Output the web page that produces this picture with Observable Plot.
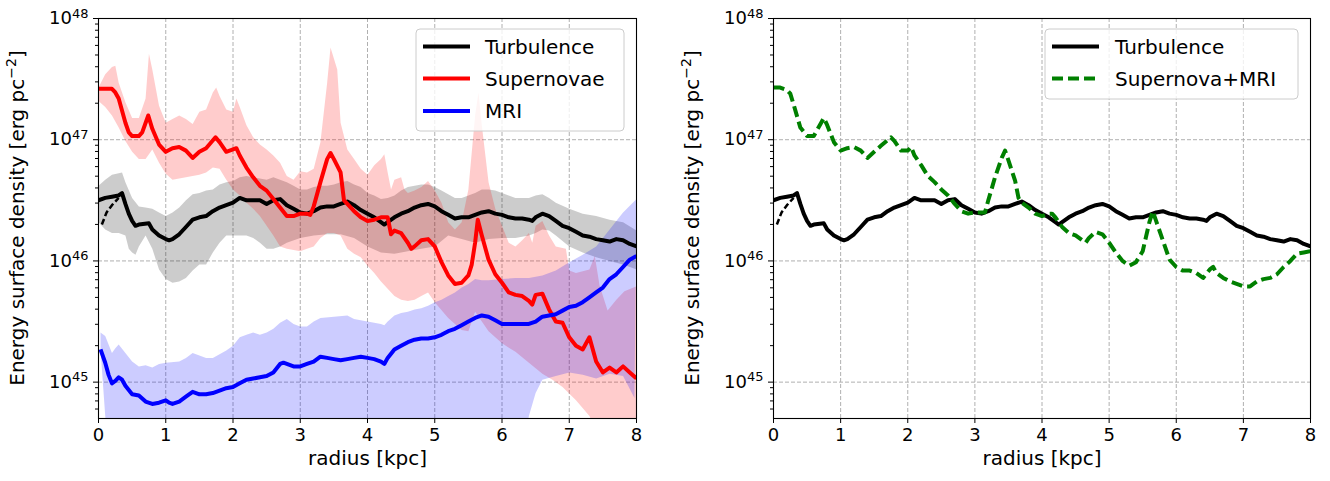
<!DOCTYPE html>
<html><head><meta charset="utf-8">
<script src="https://cdn.jsdelivr.net/npm/d3@7"></script>
<script src="https://cdn.jsdelivr.net/npm/@observablehq/plot@0.6"></script>
<style>
body{margin:0;background:#fff;}
#wrap{position:relative;width:1330px;height:481px;overflow:hidden;}
#left,#right{position:absolute;top:0;}
#left{left:0;} #right{left:665px;}
</style></head><body><div id="wrap"><div id="left"></div><div id="right"></div></div>
<script>
// ---- data: [radius kpc, log10(energy surface density / erg pc^-2)] ----
const turbulence = [[0,46.50],[0.1,46.52],[0.2,46.53],[0.3,46.54],[0.35,46.56],[0.4,46.47],[0.45,46.39],[0.5,46.33],[0.55,46.29],[0.6,46.30],[0.75,46.31],[0.8,46.26],[0.9,46.21],[1.0,46.18],[1.05,46.17],[1.1,46.18],[1.2,46.22],[1.3,46.28],[1.4,46.34],[1.5,46.36],[1.6,46.37],[1.7,46.41],[1.8,46.44],[1.9,46.46],[2.0,46.48],[2.1,46.52],[2.2,46.50],[2.3,46.50],[2.4,46.50],[2.5,46.47],[2.6,46.50],[2.7,46.51],[2.8,46.46],[2.9,46.43],[3.0,46.40],[3.1,46.39],[3.2,46.41],[3.3,46.44],[3.4,46.45],[3.5,46.45],[3.6,46.47],[3.7,46.49],[3.8,46.46],[3.9,46.42],[4.0,46.39],[4.1,46.36],[4.2,46.32],[4.25,46.30],[4.3,46.32],[4.4,46.36],[4.5,46.39],[4.6,46.41],[4.7,46.44],[4.8,46.46],[4.9,46.47],[5.0,46.45],[5.1,46.41],[5.2,46.38],[5.3,46.35],[5.4,46.36],[5.5,46.36],[5.6,46.38],[5.7,46.40],[5.8,46.41],[5.9,46.39],[6.0,46.38],[6.1,46.36],[6.2,46.35],[6.3,46.35],[6.4,46.34],[6.45,46.33],[6.5,46.36],[6.6,46.39],[6.7,46.37],[6.8,46.33],[6.9,46.29],[7.0,46.27],[7.1,46.24],[7.2,46.21],[7.3,46.20],[7.4,46.18],[7.5,46.17],[7.6,46.16],[7.7,46.18],[7.8,46.17],[7.9,46.14],[8.0,46.12]];
const turbulenceInner = [[0.05,46.30],[0.12,46.40],[0.2,46.46],[0.3,46.52]];
const supernovae = [[0,47.42],[0.1,47.42],[0.2,47.42],[0.25,47.39],[0.3,47.34],[0.4,47.14],[0.45,47.06],[0.5,47.03],[0.6,47.03],[0.65,47.06],[0.74,47.20],[0.8,47.09],[0.9,46.96],[1.0,46.90],[1.1,46.93],[1.2,46.94],[1.3,46.91],[1.4,46.85],[1.5,46.90],[1.6,46.93],[1.74,47.02],[1.8,46.98],[1.9,46.90],[2.0,46.92],[2.05,46.93],[2.1,46.87],[2.2,46.77],[2.3,46.69],[2.4,46.62],[2.5,46.58],[2.6,46.51],[2.7,46.44],[2.8,46.37],[2.9,46.37],[3.0,46.39],[3.1,46.39],[3.15,46.38],[3.2,46.45],[3.3,46.65],[3.4,46.84],[3.45,46.89],[3.5,46.84],[3.6,46.73],[3.65,46.50],[3.7,46.47],[3.8,46.41],[3.9,46.36],[4.0,46.33],[4.1,46.34],[4.2,46.36],[4.3,46.36],[4.35,46.22],[4.4,46.25],[4.5,46.23],[4.6,46.15],[4.65,46.10],[4.7,46.12],[4.8,46.17],[4.9,46.18],[5.0,46.12],[5.1,45.99],[5.2,45.88],[5.3,45.81],[5.4,45.82],[5.5,45.88],[5.55,45.97],[5.6,46.15],[5.64,46.34],[5.7,46.21],[5.8,46.01],[5.9,45.89],[6.0,45.82],[6.1,45.74],[6.2,45.72],[6.3,45.71],[6.4,45.67],[6.45,45.64],[6.5,45.72],[6.6,45.73],[6.7,45.60],[6.8,45.50],[6.9,45.49],[7.0,45.37],[7.1,45.30],[7.2,45.27],[7.3,45.37],[7.4,45.17],[7.5,45.08],[7.6,45.12],[7.7,45.08],[7.8,45.13],[7.9,45.08],[8.0,45.03]];
const mri = [[0.03,45.27],[0.1,45.16],[0.15,45.06],[0.2,44.99],[0.25,45.01],[0.3,45.04],[0.35,45.02],[0.4,44.97],[0.5,44.90],[0.6,44.89],[0.7,44.84],[0.8,44.82],[0.9,44.83],[1.0,44.85],[1.05,44.83],[1.1,44.82],[1.2,44.84],[1.3,44.88],[1.4,44.92],[1.5,44.90],[1.6,44.90],[1.7,44.91],[1.8,44.93],[1.9,44.95],[2.0,44.96],[2.1,44.99],[2.2,45.02],[2.3,45.03],[2.4,45.04],[2.5,45.05],[2.6,45.08],[2.7,45.15],[2.75,45.16],[2.8,45.15],[2.9,45.13],[3.0,45.13],[3.1,45.15],[3.2,45.17],[3.3,45.21],[3.4,45.20],[3.5,45.19],[3.6,45.18],[3.7,45.19],[3.8,45.20],[3.9,45.21],[4.0,45.20],[4.1,45.19],[4.2,45.17],[4.25,45.15],[4.3,45.20],[4.4,45.27],[4.5,45.30],[4.6,45.33],[4.7,45.35],[4.8,45.36],[4.9,45.36],[5.0,45.37],[5.1,45.39],[5.2,45.42],[5.3,45.44],[5.4,45.47],[5.5,45.50],[5.6,45.53],[5.7,45.55],[5.8,45.54],[5.9,45.51],[6.0,45.48],[6.1,45.48],[6.2,45.48],[6.3,45.48],[6.4,45.48],[6.5,45.50],[6.6,45.54],[6.7,45.55],[6.8,45.56],[6.9,45.59],[7.0,45.62],[7.1,45.63],[7.2,45.66],[7.3,45.70],[7.4,45.74],[7.5,45.78],[7.6,45.85],[7.7,45.89],[7.8,45.95],[7.9,46.01],[8.0,46.04]];
const supernovaMri = [[0,47.43],[0.1,47.43],[0.2,47.41],[0.25,47.38],[0.3,47.29],[0.4,47.10],[0.5,47.03],[0.6,47.03],[0.7,47.13],[0.75,47.18],[0.8,47.12],[0.9,46.98],[1.0,46.91],[1.1,46.93],[1.2,46.94],[1.3,46.91],[1.4,46.85],[1.5,46.90],[1.6,46.95],[1.75,47.02],[1.8,46.99],[1.9,46.91],[2.0,46.91],[2.05,46.94],[2.1,46.87],[2.2,46.79],[2.3,46.70],[2.4,46.65],[2.5,46.59],[2.6,46.54],[2.7,46.47],[2.8,46.41],[2.9,46.39],[3.0,46.40],[3.1,46.40],[3.15,46.40],[3.2,46.50],[3.3,46.69],[3.4,46.85],[3.45,46.91],[3.5,46.83],[3.6,46.66],[3.65,46.52],[3.7,46.48],[3.8,46.44],[3.9,46.39],[4.0,46.37],[4.1,46.39],[4.15,46.39],[4.2,46.36],[4.3,46.28],[4.4,46.23],[4.5,46.21],[4.6,46.17],[4.65,46.15],[4.7,46.19],[4.8,46.24],[4.9,46.22],[5.0,46.15],[5.1,46.07],[5.2,46.00],[5.3,45.96],[5.4,45.99],[5.5,46.08],[5.6,46.32],[5.65,46.41],[5.7,46.33],[5.8,46.17],[5.9,46.01],[6.0,45.95],[6.1,45.92],[6.2,45.92],[6.3,45.90],[6.4,45.86],[6.5,45.93],[6.55,45.95],[6.6,45.90],[6.7,45.86],[6.8,45.83],[6.9,45.81],[7.0,45.79],[7.1,45.79],[7.15,45.81],[7.2,45.83],[7.3,45.85],[7.4,45.86],[7.5,45.89],[7.6,45.95],[7.7,46.00],[7.8,46.06],[7.9,46.07],[8.0,46.08]];
// spread bands (upper / lower edges)
const turbulenceHi = [[0,46.62],[0.1,46.67],[0.2,46.71],[0.35,46.73],[0.4,46.65],[0.5,46.52],[0.6,46.45],[0.7,46.44],[0.8,46.43],[0.9,46.40],[1.0,46.37],[1.1,46.40],[1.2,46.44],[1.3,46.50],[1.4,46.55],[1.5,46.56],[1.6,46.58],[1.7,46.59],[1.8,46.63],[1.9,46.65],[2.0,46.66],[2.1,46.69],[2.2,46.70],[2.3,46.69],[2.4,46.68],[2.5,46.67],[2.6,46.69],[2.7,46.67],[2.8,46.65],[2.9,46.62],[3.0,46.59],[3.1,46.59],[3.2,46.61],[3.3,46.62],[3.4,46.62],[3.5,46.63],[3.6,46.65],[3.7,46.66],[3.8,46.63],[3.9,46.61],[4.0,46.56],[4.1,46.54],[4.2,46.51],[4.3,46.52],[4.4,46.54],[4.5,46.58],[4.6,46.61],[4.7,46.62],[4.8,46.63],[4.9,46.63],[5.0,46.61],[5.1,46.58],[5.2,46.55],[5.3,46.52],[5.4,46.52],[5.5,46.54],[5.6,46.56],[5.7,46.59],[5.8,46.59],[5.9,46.58],[6.0,46.56],[6.2,46.52],[6.4,46.52],[6.5,46.54],[6.6,46.55],[6.7,46.52],[6.8,46.48],[7.0,46.43],[7.2,46.39],[7.4,46.37],[7.6,46.34],[7.8,46.32],[8.0,46.25]];
const turbulenceLo = [[0,46.32],[0.1,46.26],[0.2,46.23],[0.3,46.23],[0.4,46.21],[0.45,46.10],[0.5,46.07],[0.55,46.05],[0.6,46.12],[0.7,46.21],[0.8,46.10],[0.9,45.93],[1.0,45.85],[1.1,45.82],[1.2,45.83],[1.3,45.86],[1.4,45.92],[1.5,45.97],[1.6,45.97],[1.7,46.07],[1.8,46.15],[1.9,46.21],[2.0,46.21],[2.2,46.21],[2.3,46.19],[2.4,46.15],[2.5,46.10],[2.6,46.10],[2.7,46.12],[2.8,46.15],[3.0,46.19],[3.2,46.21],[3.4,46.22],[3.6,46.22],[3.8,46.19],[4.0,46.12],[4.2,46.07],[4.4,46.06],[4.6,46.08],[4.8,46.10],[5.0,46.12],[5.2,46.21],[5.4,46.18],[5.6,46.15],[5.8,46.18],[6.0,46.19],[6.2,46.19],[6.4,46.21],[6.5,46.23],[6.6,46.26],[6.7,46.25],[6.8,46.21],[7.0,46.12],[7.2,46.07],[7.4,46.03],[7.6,46.00],[7.8,45.97],[8.0,45.93]];
const supernovaeHi = [[0,47.43],[0.1,47.54],[0.2,47.60],[0.25,47.61],[0.3,47.47],[0.4,47.31],[0.5,47.18],[0.6,47.18],[0.7,47.34],[0.75,47.71],[0.8,47.58],[0.9,47.28],[1.0,47.14],[1.1,47.17],[1.2,47.20],[1.3,47.17],[1.4,47.13],[1.5,47.23],[1.6,47.25],[1.7,47.39],[1.75,47.43],[1.8,47.36],[1.9,47.25],[2.0,47.23],[2.05,47.34],[2.1,47.27],[2.2,47.12],[2.3,47.02],[2.4,46.96],[2.5,46.92],[2.6,46.87],[2.7,46.81],[2.8,46.70],[2.9,46.67],[3.0,46.74],[3.1,46.73],[3.2,46.76],[3.3,46.98],[3.4,47.47],[3.45,47.76],[3.55,47.58],[3.6,47.14],[3.7,46.92],[3.8,46.84],[3.9,46.76],[4.0,46.71],[4.1,46.79],[4.2,46.84],[4.25,46.88],[4.3,46.73],[4.35,46.59],[4.4,46.67],[4.5,46.69],[4.55,46.59],[4.6,46.56],[4.7,46.58],[4.8,46.61],[4.9,46.66],[5.0,46.58],[5.1,46.48],[5.2,46.32],[5.3,46.26],[5.4,46.32],[5.5,46.59],[5.6,47.20],[5.65,47.39],[5.7,47.12],[5.8,46.65],[5.9,46.43],[6.0,46.29],[6.1,46.15],[6.2,46.12],[6.3,46.17],[6.4,46.23],[6.45,46.15],[6.5,46.29],[6.6,46.33],[6.7,46.21],[6.8,46.12],[6.95,46.10],[7.0,45.92],[7.1,45.90],[7.3,45.93],[7.38,46.04],[7.45,45.80],[7.57,45.59],[7.7,45.68],[7.82,45.75],[8.0,45.79]];
const supernovaeLo = [[0,47.32],[0.1,47.27],[0.2,47.20],[0.3,47.10],[0.4,46.99],[0.5,46.90],[0.6,46.84],[0.7,46.84],[0.8,46.92],[0.9,46.81],[1.0,46.72],[1.1,46.67],[1.3,46.69],[1.5,46.71],[1.6,46.73],[1.7,46.77],[1.8,46.76],[1.9,46.67],[2.0,46.59],[2.1,46.54],[2.2,46.48],[2.3,46.43],[2.4,46.37],[2.5,46.29],[2.6,46.21],[2.7,46.12],[2.8,46.10],[3.0,46.08],[3.1,46.10],[3.2,46.12],[3.3,46.19],[3.4,46.23],[3.5,46.23],[3.6,46.21],[3.7,46.10],[3.8,46.06],[3.9,46.03],[4.0,45.96],[4.1,45.90],[4.2,45.83],[4.3,45.77],[4.4,45.71],[4.5,45.68],[4.6,45.67],[4.7,45.68],[4.8,45.71],[4.9,45.74],[5.0,45.66],[5.2,45.53],[5.4,45.43],[5.5,45.42],[5.6,45.58],[5.7,45.50],[5.8,45.42],[5.9,45.37],[6.0,45.32],[6.2,45.25],[6.4,45.16],[6.6,45.07],[6.75,45.02],[6.9,44.96],[7.1,44.85],[7.3,44.72],[7.45,44.55],[7.7,44.45],[8.0,44.45]];
const mriHi = [[0.03,45.41],[0.1,45.38],[0.2,45.24],[0.25,45.28],[0.3,45.31],[0.4,45.24],[0.5,45.17],[0.6,45.13],[0.7,45.14],[0.8,45.12],[0.9,45.15],[1.0,45.16],[1.2,45.17],[1.3,45.20],[1.4,45.24],[1.5,45.22],[1.6,45.20],[1.7,45.20],[1.8,45.23],[1.9,45.26],[2.0,45.30],[2.1,45.37],[2.2,45.39],[2.3,45.41],[2.4,45.39],[2.5,45.41],[2.6,45.44],[2.7,45.49],[2.8,45.52],[2.9,45.48],[3.0,45.46],[3.1,45.46],[3.2,45.50],[3.3,45.53],[3.5,45.54],[3.7,45.55],[3.8,45.52],[4.0,45.50],[4.2,45.48],[4.25,45.47],[4.3,45.50],[4.4,45.55],[4.5,45.57],[4.6,45.58],[4.7,45.60],[4.8,45.61],[4.9,45.63],[5.0,45.66],[5.1,45.68],[5.2,45.71],[5.3,45.74],[5.4,45.78],[5.5,45.81],[5.6,45.85],[5.7,45.84],[5.8,45.84],[6.0,45.85],[6.2,45.86],[6.4,45.86],[6.6,45.88],[6.8,45.92],[7.0,45.99],[7.2,46.05],[7.4,46.12],[7.6,46.26],[7.8,46.40],[8.0,46.51]];
const mriLo = [[0.03,45.27],[0.1,44.72],[0.15,44.44],[6.3,44.44],[6.4,44.72],[6.5,44.91],[6.6,45.02],[6.8,45.05],[7.0,45.08],[7.2,45.06],[7.4,45.03],[7.6,45.07],[7.8,45.05],[7.97,44.87]];
// ticks
const xTicks = [0,1,2,3,4,5,6,7,8];
const yExponents = [45,46,47,48];
const yDomainExp = [44.7,48];

// ---- helpers ----
const rows = arr => arr.map(([r, l]) => ({r, v: Math.pow(10, l)}));
const band = (hi, lo) => rows(hi.concat(lo.slice().reverse()));
const yMajor = yExponents.map(e => Math.pow(10, e));
const yMinor = [];
for (let e = 44; e < 48; e++) for (let m = 2; m <= 9; m++) { const v = m * Math.pow(10, e); if (v >= Math.pow(10, yDomainExp[0]) && v <= 1e48) yMinor.push(v); }
const FONT = "DejaVu Sans";

function panel(mLeft, mRight, marks) {
  const svg = Plot.plot({
    width: 665, height: 481,
    marginLeft: mLeft, marginRight: mRight, marginTop: 18, marginBottom: 63,
    style: {fontFamily: FONT, fontSize: "18px", color: "black", background: "white", overflow: "visible"},
    x: {domain: [0, 8]},
    y: {type: "log", domain: yDomainExp.map(e => Math.pow(10, e))},
    marks: [
      Plot.gridX({ticks: xTicks.slice(1, -1), stroke: "#b0b0b0", strokeOpacity: 1, strokeWidth: 1, strokeDasharray: "4,2"}),
      Plot.gridY({ticks: yMajor.slice(0, -1), stroke: "#b0b0b0", strokeOpacity: 1, strokeWidth: 1, strokeDasharray: "4,2"}),
      ...marks,
      Plot.frame({stroke: "black", strokeWidth: 1.1}),
      Plot.axisX({ticks: xTicks, tickSize: 5, tickPadding: 5, fontSize: 18, label: null, tickFormat: d => String(d)}),
      Plot.axisY({ticks: yMinor, tickSize: 3, tickFormat: () => "", label: null}),
      Plot.axisY({ticks: yMajor, tickSize: 5, tickPadding: 5, fontSize: 18, label: null, tickFormat: d => "10^" + Math.round(Math.log10(d))}),
      Plot.text(["radius [kpc]"], {text: d => d, frameAnchor: "bottom", dy: 46, fontSize: 20})
    ]
  });
  d3.select(svg).selectAll("text").each(function() {
    const t = this.textContent;
    if (/^10\^\d+$/.test(t)) {
      const [b, e] = t.split("^");
      const s = d3.select(this); s.text(b);
      s.append("tspan").attr("dy", "-0.5em").attr("font-size", "0.72em").text(e);
    }
  });
  return svg;
}

function yLabel(svg, x) {
  const t = d3.select(svg).append("text")
    .attr("transform", `translate(${x},218) rotate(-90)`)
    .attr("text-anchor", "middle").attr("font-family", FONT).attr("font-size", 20).attr("fill", "black");
  t.append("tspan").text("Energy surface density [erg pc");
  t.append("tspan").attr("dy", -8).attr("font-size", 14).text("−2");
  t.append("tspan").attr("dy", 8).text("]");
}

function legend(svg, box, items) {
  const g = d3.select(svg).append("g").attr("text-anchor", "start");
  g.append("rect").attr("x", box.x).attr("y", box.y).attr("width", box.w).attr("height", box.h)
    .attr("rx", 4).attr("fill", "white").attr("fill-opacity", 0.8).attr("stroke", "#cccccc");
  items.forEach(it => {
    g.append("line").attr("x1", box.lx).attr("x2", box.lx + 47).attr("y1", it.y).attr("y2", it.y)
      .attr("stroke", it.color).attr("stroke-width", 4).attr("stroke-dasharray", it.dash || null);
    g.append("text").attr("x", box.tx).attr("y", it.y).attr("dy", "0.35em").attr("text-anchor", "start")
      .attr("font-family", FONT).attr("font-size", 20).attr("fill", "black").text(it.label);
  });
}

const lineOpts = (color) => ({x: "r", y: "v", stroke: color, strokeWidth: 4, strokeLinejoin: "round", strokeLinecap: "butt", clip: true});
const bandOpts = (color) => ({x: "r", y: "v", fill: color, fillOpacity: 0.2, stroke: "none", clip: true});
const innerOpts = {x: "r", y: "v", stroke: "black", strokeWidth: 2.5, strokeDasharray: "6,3", strokeLinecap: "butt", clip: true};

// ---- left panel ----
const left = panel(98, 29, [
  Plot.line(band(turbulenceHi, turbulenceLo), bandOpts("black")),
  Plot.line(band(supernovaeHi, supernovaeLo), bandOpts("red")),
  Plot.line(band(mriHi, mriLo), bandOpts("blue")),
  Plot.line(rows(turbulence), lineOpts("black")),
  Plot.line(rows(turbulenceInner), innerOpts),
  Plot.line(rows(supernovae), lineOpts("red")),
  Plot.line(rows(mri), lineOpts("blue"))
]);
yLabel(left, 24);
legend(left, {x: 416, y: 29, w: 208, h: 102, lx: 423, tx: 485}, [
  {label: "Turbulence", color: "black", y: 46.5},
  {label: "Supernovae", color: "red", y: 78.5},
  {label: "MRI", color: "blue", y: 111}
]);
document.getElementById("left").appendChild(left);

// ---- right panel ----
const right = panel(108, 20, [
  Plot.line(rows(turbulence), lineOpts("black")),
  Plot.line(rows(turbulenceInner), innerOpts),
  Plot.line(rows(supernovaMri), {...lineOpts("green"), strokeDasharray: "11,5"})
]);
yLabel(right, 34);
legend(right, {x: 380, y: 29, w: 253, h: 70, lx: 387, tx: 450}, [
  {label: "Turbulence", color: "black", y: 46.5},
  {label: "Supernova+MRI", color: "green", y: 78.5, dash: "11,5"}
]);
document.getElementById("right").appendChild(right);
</script></body></html>
